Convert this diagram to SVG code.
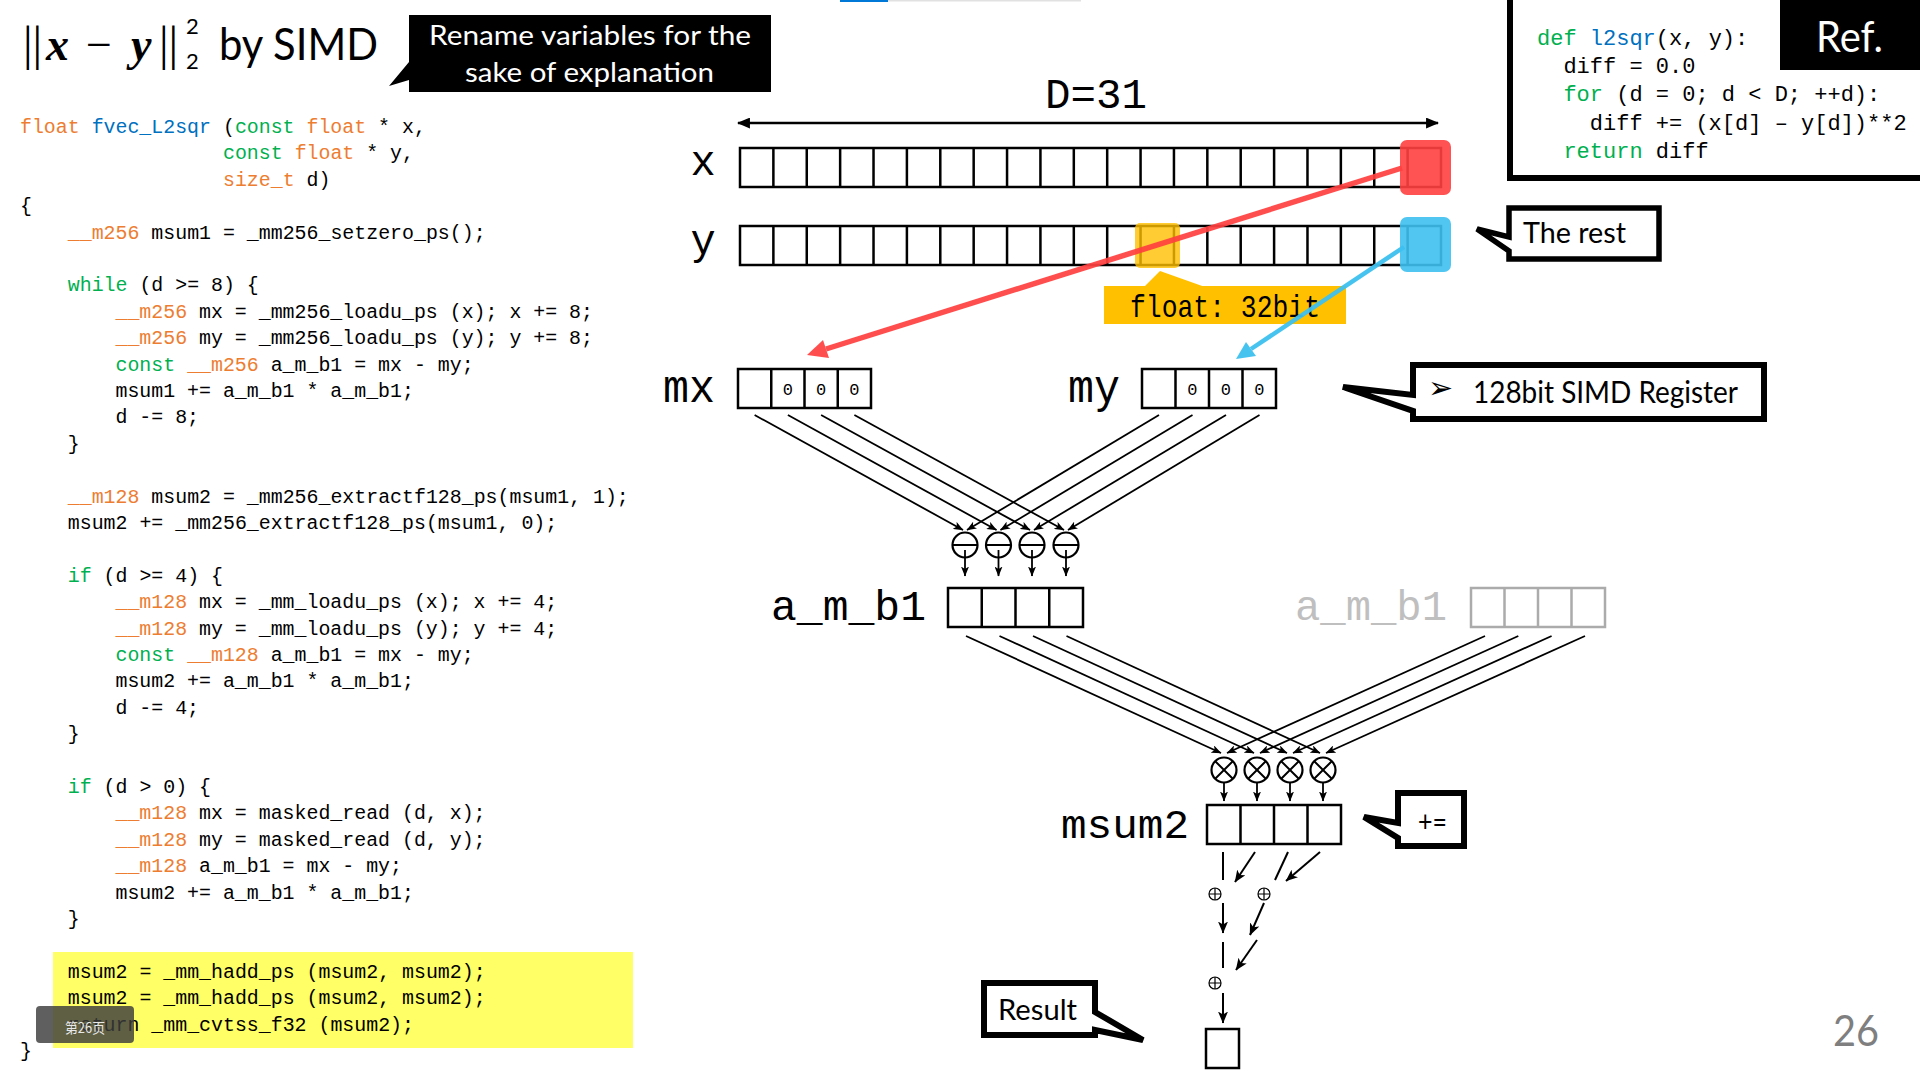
<svg xmlns="http://www.w3.org/2000/svg" width="1920" height="1077" viewBox="0 0 1920 1077">
<defs>
<style>
.code{font-family:"Liberation Mono","DejaVu Sans Mono",monospace;font-size:19.9px;fill:#000}
.ref{font-family:"Liberation Mono","DejaVu Sans Mono",monospace;font-size:22px;fill:#000}
.o{fill:#ED7D31}
.g{fill:#00B050}
.b{fill:#0070C0}
.lab{font-family:"Liberation Mono","DejaVu Sans Mono",monospace;fill:#000}
.sans{font-family:Lato,"Open Sans","Liberation Sans",sans-serif}
.zero{font-family:"Liberation Mono","DejaVu Sans Mono",monospace;font-size:17px;text-anchor:middle;fill:#000}
.reg{fill:none;stroke:#000;stroke-width:2.5}
.regg{fill:none;stroke:#ABABAB;stroke-width:2.5}
.ln{fill:none;stroke:#000;stroke-width:2}
.arw{fill:none;stroke:#000;stroke-width:1.8;marker-end:url(#ah)}
.arw2{fill:none;stroke:#000;stroke-width:2;marker-end:url(#ah2)}
.op{fill:#fff;stroke:#000;stroke-width:2.2}
.ops{fill:#fff;stroke:#000;stroke-width:1.2}
.call{fill:#fff;stroke:#000;stroke-width:6;stroke-linejoin:miter}
</style>
<marker id="ah" viewBox="0 0 10 8" markerWidth="10" markerHeight="8" refX="9.5" refY="4" orient="auto" markerUnits="userSpaceOnUse"><path d="M0,0 L10,4 L0,8 L2.5,4 Z" fill="#000"/></marker>
<marker id="ah2" viewBox="0 0 12 10" markerWidth="12" markerHeight="10" refX="11.5" refY="5" orient="auto" markerUnits="userSpaceOnUse"><path d="M0,0 L12,5 L0,10 L3,5 Z" fill="#000"/></marker>
<marker id="dh" viewBox="0 0 12 10" markerWidth="13" markerHeight="11" refX="11" refY="5" orient="auto-start-reverse" markerUnits="userSpaceOnUse"><path d="M0,0 L12,5 L0,10 Z" fill="#000"/></marker>
</defs>
<rect x="0" y="0" width="1920" height="1077" fill="#fff"/>

<!-- top progress line -->
<g id="topbar">
<rect x="840" y="0" width="48" height="2" fill="#0078D7"/>
<rect x="888" y="0" width="193" height="1.5" fill="#E1E1E1"/>
</g>

<!-- title -->
<g id="title">
<text x="23" y="60" font-family="Liberation Serif,serif" font-size="48">||</text>
<text x="46" y="60" font-family="Liberation Serif,serif" font-size="46" font-weight="bold" font-style="italic">x</text>
<text x="86" y="60" font-family="Liberation Serif,serif" font-size="46">−</text>
<text x="131" y="60" font-family="Liberation Serif,serif" font-size="46" font-weight="bold" font-style="italic">y</text>
<text x="159" y="60" font-family="Liberation Serif,serif" font-size="48">||</text>
<text x="186" y="34" class="sans" font-size="22">2</text>
<text x="186" y="69" class="sans" font-size="22">2</text>
<text x="219" y="60" class="sans" font-size="44" textLength="159" lengthAdjust="spacingAndGlyphs">by SIMD</text>
</g>

<g id="note-rename">
<path d="M409,15 H771 V92 H409 V80 L389,86 L409,62 Z" fill="#000"/>
<text class="sans" x="429" y="45" font-size="27" fill="#fff" textLength="322" lengthAdjust="spacingAndGlyphs">Rename variables for the</text>
<text class="sans" x="465" y="82" font-size="27" fill="#fff" textLength="249" lengthAdjust="spacingAndGlyphs">sake of explanation</text>
</g>

<!-- code listing -->
<g id="code" xml:space="preserve">
<rect x="53" y="952" width="580" height="96" fill="#FFFF66"/>
<text class="code" x="20" y="133"><tspan class="o">float</tspan> <tspan class="b">fvec_L2sqr</tspan> (<tspan class="g">const</tspan> <tspan class="o">float</tspan> * x,</text>
<text class="code" x="223" y="159.4"><tspan class="g">const</tspan> <tspan class="o">float</tspan> * y,</text>
<text class="code" x="223" y="185.8"><tspan class="o">size_t</tspan> d)</text>
<text class="code" x="20" y="212.2">{</text>
<text class="code" x="67.8" y="238.6"><tspan class="o">__m256</tspan> msum1 = _mm256_setzero_ps();</text>
<text class="code" x="67.8" y="291.4"><tspan class="g">while</tspan> (d &gt;= 8) {</text>
<text class="code" x="115.5" y="317.8"><tspan class="o">__m256</tspan> mx = _mm256_loadu_ps (x); x += 8;</text>
<text class="code" x="115.5" y="344.2"><tspan class="o">__m256</tspan> my = _mm256_loadu_ps (y); y += 8;</text>
<text class="code" x="115.5" y="370.6"><tspan class="g">const</tspan> <tspan class="o">__m256</tspan> a_m_b1 = mx - my;</text>
<text class="code" x="115.5" y="397">msum1 += a_m_b1 * a_m_b1;</text>
<text class="code" x="115.5" y="423.4">d -= 8;</text>
<text class="code" x="67.8" y="449.8">}</text>
<text class="code" x="67.8" y="502.6"><tspan class="o">__m128</tspan> msum2 = _mm256_extractf128_ps(msum1, 1);</text>
<text class="code" x="67.8" y="529">msum2 += _mm256_extractf128_ps(msum1, 0);</text>
<text class="code" x="67.8" y="581.8"><tspan class="g">if</tspan> (d &gt;= 4) {</text>
<text class="code" x="115.5" y="608.2"><tspan class="o">__m128</tspan> mx = _mm_loadu_ps (x); x += 4;</text>
<text class="code" x="115.5" y="634.6"><tspan class="o">__m128</tspan> my = _mm_loadu_ps (y); y += 4;</text>
<text class="code" x="115.5" y="661"><tspan class="g">const</tspan> <tspan class="o">__m128</tspan> a_m_b1 = mx - my;</text>
<text class="code" x="115.5" y="687.4">msum2 += a_m_b1 * a_m_b1;</text>
<text class="code" x="115.5" y="713.8">d -= 4;</text>
<text class="code" x="67.8" y="740.2">}</text>
<text class="code" x="67.8" y="793"><tspan class="g">if</tspan> (d &gt; 0) {</text>
<text class="code" x="115.5" y="819.4"><tspan class="o">__m128</tspan> mx = masked_read (d, x);</text>
<text class="code" x="115.5" y="845.8"><tspan class="o">__m128</tspan> my = masked_read (d, y);</text>
<text class="code" x="115.5" y="872.2"><tspan class="o">__m128</tspan> a_m_b1 = mx - my;</text>
<text class="code" x="115.5" y="898.6">msum2 += a_m_b1 * a_m_b1;</text>
<text class="code" x="67.8" y="925">}</text>
<text class="code" x="67.8" y="977.8">msum2 = _mm_hadd_ps (msum2, msum2);</text>
<text class="code" x="67.8" y="1004.2">msum2 = _mm_hadd_ps (msum2, msum2);</text>
<text class="code" x="67.8" y="1030.6">return  _mm_cvtss_f32 (msum2);</text>
<text class="code" x="20" y="1057">}</text>
</g>

<g id="page-badge">
<rect x="36" y="1006" width="98" height="37" rx="4" fill="#3C3C3C" opacity="0.82"/>
<text x="65" y="1033" font-family="'Noto Sans CJK SC','Noto Sans',sans-serif" font-size="14" fill="#E8E8E8" textLength="40" lengthAdjust="spacingAndGlyphs">第26页</text>
</g>

<!-- reference box -->
<g id="ref-box">
<rect x="1510" y="-10" width="420" height="188" fill="#fff" stroke="#000" stroke-width="6"/>
<rect x="1780" y="-5" width="145" height="75" fill="#000"/>
<text class="sans" x="1816" y="52" font-size="42" fill="#fff" textLength="67" lengthAdjust="spacingAndGlyphs">Ref.</text>
<text class="ref" x="1537" y="45"><tspan class="g">def</tspan> <tspan class="b">l2sqr</tspan>(x, y):</text>
<text class="ref" x="1563.4" y="73">diff = 0.0</text>
<text class="ref" x="1563.4" y="101"><tspan class="g">for</tspan> (d = 0; d &lt; D; ++d):</text>
<text class="ref" x="1589.8" y="130">diff += (x[d] – y[d])**2</text>
<text class="ref" x="1563.4" y="158"><tspan class="g">return</tspan> diff</text>
</g>

<!-- D=31 -->
<g id="dim">
<text class="lab" x="1045" y="108" font-size="42" textLength="102" lengthAdjust="spacingAndGlyphs">D=31</text>
<line x1="738" y1="123" x2="1438" y2="123" stroke="#000" stroke-width="2.5" marker-start="url(#dh)" marker-end="url(#dh)"/>
</g>

<!-- x array -->
<g id="x-array">
<text class="lab" x="703" y="175" font-size="42" text-anchor="middle">x</text>
<rect class="reg" x="740" y="148" width="701" height="39"/>
<path class="reg" d="M773.38,148v39M806.76,148v39M840.14,148v39M873.52,148v39M906.9,148v39M940.29,148v39M973.67,148v39M1007.05,148v39M1040.43,148v39M1073.81,148v39M1107.19,148v39M1140.57,148v39M1173.95,148v39M1207.33,148v39M1240.71,148v39M1274.1,148v39M1307.48,148v39M1340.86,148v39M1374.24,148v39M1407.62,148v39"/>
<rect x="1400" y="140" width="51" height="55" rx="7" fill="#FF4040" opacity="0.9"/>
</g>

<!-- y array -->
<g id="y-array">
<text class="lab" x="703" y="254" font-size="42" text-anchor="middle">y</text>
<rect class="reg" x="740" y="226" width="701" height="39"/>
<path class="reg" d="M773.38,226v39M806.76,226v39M840.14,226v39M873.52,226v39M906.9,226v39M940.29,226v39M973.67,226v39M1007.05,226v39M1040.43,226v39M1073.81,226v39M1107.19,226v39M1140.57,226v39M1173.95,226v39M1207.33,226v39M1240.71,226v39M1274.1,226v39M1307.48,226v39M1340.86,226v39M1374.24,226v39M1407.62,226v39"/>
<rect x="1135" y="223" width="45" height="45" rx="5" fill="#FFC000" opacity="0.8"/>
<rect x="1400" y="217" width="51" height="55" rx="7" fill="#3EC0F0" opacity="0.9"/>
</g>

<g id="float-label">
<polygon points="1144,287 1160,271 1205,287" fill="#FFC000"/>
<rect x="1104" y="286" width="242" height="38" fill="#FFC000"/>
<text class="lab" x="1130" y="317" font-size="32" textLength="190" lengthAdjust="spacingAndGlyphs">float: 32bit</text>
</g>

<!-- mx / my registers -->
<g id="mx">
<text class="lab" x="663" y="402" font-size="46" textLength="52" lengthAdjust="spacingAndGlyphs">mx</text>
<rect class="reg" x="738" y="369" width="133" height="39"/>
<path class="reg" d="M771.25,369v39M804.5,369v39M837.75,369v39"/>
<text class="zero" x="787.9" y="395">0</text>
<text class="zero" x="821.1" y="395">0</text>
<text class="zero" x="854.4" y="395">0</text>
</g>
<g id="my">
<text class="lab" x="1068" y="402" font-size="46" textLength="52" lengthAdjust="spacingAndGlyphs">my</text>
<rect class="reg" x="1142" y="369" width="134" height="39"/>
<path class="reg" d="M1175.5,369v39M1209,369v39M1242.5,369v39"/>
<text class="zero" x="1192.25" y="395">0</text>
<text class="zero" x="1225.75" y="395">0</text>
<text class="zero" x="1259.25" y="395">0</text>
</g>

<g id="note-simd">
<path class="call" d="M1413,365 H1764 V419 H1413 V411 L1343,387 L1413,395 Z"/>
<text x="1428" y="398" font-family="'DejaVu Sans',sans-serif" font-size="30">➢</text>
<text class="sans" x="1473" y="403" font-size="30" textLength="265" lengthAdjust="spacingAndGlyphs">128bit SIMD Register</text>
</g>

<!-- subtract ops -->
<g id="sub-ops">
<circle class="op" cx="965" cy="545" r="12.5"/><line class="ln" x1="952.5" y1="545" x2="977.5" y2="545"/>
<circle class="op" cx="998.5" cy="545" r="12.5"/><line class="ln" x1="986" y1="545" x2="1011" y2="545"/>
<circle class="op" cx="1032" cy="545" r="12.5"/><line class="ln" x1="1019.5" y1="545" x2="1044.5" y2="545"/>
<circle class="op" cx="1066" cy="545" r="12.5"/><line class="ln" x1="1053.5" y1="545" x2="1078.5" y2="545"/>
</g>

<g id="amb1">
<text class="lab" x="771" y="620" font-size="42" textLength="155" lengthAdjust="spacingAndGlyphs">a_m_b1</text>
<rect class="reg" x="948" y="588" width="135" height="39"/>
<path class="reg" d="M981.75,588v39M1015.5,588v39M1049.25,588v39"/>
</g>
<g id="amb1-copy">
<text class="lab" x="1295" y="620" font-size="42" style="fill:#BFBFBF" textLength="152" lengthAdjust="spacingAndGlyphs">a_m_b1</text>
<rect class="regg" x="1471" y="588" width="134" height="39"/>
<path class="regg" d="M1504.5,588v39M1538,588v39M1571.5,588v39"/>
</g>

<!-- multiply ops -->
<g id="mul-ops">
<circle class="op" cx="1224" cy="770" r="12.5"/><path class="ln" d="M1215.2,761.2l17.6,17.6M1232.8,761.2l-17.6,17.6"/>
<circle class="op" cx="1257" cy="770" r="12.5"/><path class="ln" d="M1248.2,761.2l17.6,17.6M1265.8,761.2l-17.6,17.6"/>
<circle class="op" cx="1290" cy="770" r="12.5"/><path class="ln" d="M1281.2,761.2l17.6,17.6M1298.8,761.2l-17.6,17.6"/>
<circle class="op" cx="1323" cy="770" r="12.5"/><path class="ln" d="M1314.2,761.2l17.6,17.6M1331.8,761.2l-17.6,17.6"/>
</g>

<g id="msum2">
<text class="lab" x="1061" y="838" font-size="40" textLength="128" lengthAdjust="spacingAndGlyphs">msum2</text>
<rect class="reg" x="1207" y="805" width="134" height="39"/>
<path class="reg" d="M1240.5,805v39M1274,805v39M1307.5,805v39"/>
</g>

<g id="note-acc">
<path class="call" d="M1398,793 H1464 V846 H1398 V838 L1364,817 L1398,823 Z"/>
<text class="sans" x="1418" y="832" font-size="28" textLength="29" lengthAdjust="spacingAndGlyphs">+=</text>
</g>

<!-- horizontal add ops -->
<g id="add-ops">
<circle class="ops" cx="1215" cy="894" r="6"/><path d="M1209,894h12M1215,888v12" stroke="#000" stroke-width="1.2"/>
<circle class="ops" cx="1264" cy="894" r="6"/><path d="M1258,894h12M1264,888v12" stroke="#000" stroke-width="1.2"/>
<circle class="ops" cx="1215" cy="983" r="6"/><path d="M1209,983h12M1215,977v12" stroke="#000" stroke-width="1.2"/>
</g>

<g id="result">
<rect class="reg" x="1206" y="1029" width="33" height="39"/>
</g>

<g id="note-result">
<path class="call" d="M984,983 H1095 V1012 L1143,1040 L1095,1030 V1035 H984 Z"/>
<text class="sans" x="998" y="1020" font-size="28" textLength="79" lengthAdjust="spacingAndGlyphs">Result</text>
</g>

<g id="note-rest">
<path class="call" style="stroke-width:5.5" d="M1509,208 H1659 V259 H1509 V251 L1477,229 L1509,237 Z"/>
<text class="sans" x="1523" y="243" font-size="29" textLength="103" lengthAdjust="spacingAndGlyphs">The rest</text>
</g>

<!-- connectors -->
<g id="connectors">
<g opacity="0.92">
<line x1="1402" y1="168" x2="826" y2="349" stroke="#FF4040" stroke-width="5.5"/>
<polygon points="807,355 829,358 823,340" fill="#FF4040"/>
</g>
<g opacity="0.95">
<line x1="1404" y1="247" x2="1251" y2="349" stroke="#3EC0F0" stroke-width="4.5"/>
<polygon points="1236,359 1256,356 1246,342" fill="#3EC0F0"/>
</g>
<line class="arw" x1="754.6" y1="415" x2="963" y2="530"/>
<line class="arw" x1="787.9" y1="415" x2="996.5" y2="530"/>
<line class="arw" x1="821.1" y1="415" x2="1030" y2="530"/>
<line class="arw" x1="854.4" y1="415" x2="1064" y2="530"/>
<line class="arw" x1="1159" y1="415" x2="967" y2="530"/>
<line class="arw" x1="1192.5" y1="415" x2="1000.5" y2="530"/>
<line class="arw" x1="1226" y1="415" x2="1034" y2="530"/>
<line class="arw" x1="1259.5" y1="415" x2="1068" y2="530"/>
<line class="arw" x1="965" y1="550" x2="965" y2="576"/>
<line class="arw" x1="998.5" y1="550" x2="998.5" y2="576"/>
<line class="arw" x1="1032" y1="550" x2="1032" y2="576"/>
<line class="arw" x1="1066" y1="550" x2="1066" y2="576"/>
<line class="arw" x1="966" y1="636" x2="1221" y2="753"/>
<line class="arw" x1="999.5" y1="636" x2="1254" y2="753"/>
<line class="arw" x1="1033" y1="636" x2="1287" y2="753"/>
<line class="arw" x1="1066.5" y1="636" x2="1320" y2="753"/>
<line class="arw" x1="1485" y1="636" x2="1227" y2="753"/>
<line class="arw" x1="1518.3" y1="636" x2="1260" y2="753"/>
<line class="arw" x1="1551.6" y1="636" x2="1293" y2="753"/>
<line class="arw" x1="1585" y1="636" x2="1326" y2="753"/>
<line class="arw" x1="1224" y1="783" x2="1224" y2="801"/>
<line class="arw" x1="1257" y1="783" x2="1257" y2="801"/>
<line class="arw" x1="1290" y1="783" x2="1290" y2="801"/>
<line class="arw" x1="1323" y1="783" x2="1323" y2="801"/>
<line class="ln" x1="1223" y1="852" x2="1223" y2="880"/>
<line class="arw2" x1="1255" y1="852" x2="1235" y2="882"/>
<line class="ln" x1="1288" y1="852" x2="1275" y2="880"/>
<line class="arw2" x1="1320" y1="852" x2="1286" y2="881"/>
<line class="arw2" x1="1223" y1="903" x2="1223" y2="933"/>
<line class="arw2" x1="1264" y1="903" x2="1250" y2="935"/>
<line class="ln" x1="1223" y1="942" x2="1223" y2="968"/>
<line class="arw2" x1="1257" y1="940" x2="1236" y2="970"/>
<line class="arw2" x1="1223" y1="993" x2="1223" y2="1023"/>
</g>

<g id="page-number">
<text class="sans" x="1833" y="1046" font-size="42" fill="#7F7F7F" textLength="46" lengthAdjust="spacingAndGlyphs">26</text>
</g>
</svg>
